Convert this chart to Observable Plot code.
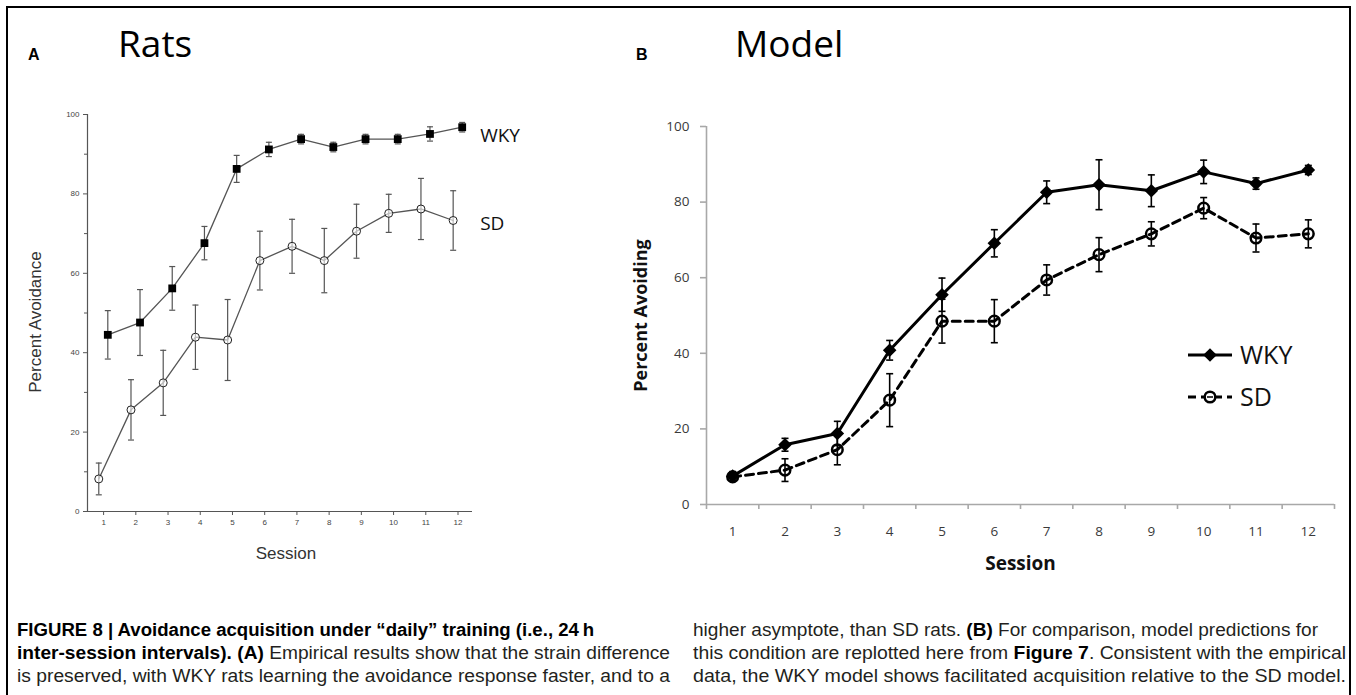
<!DOCTYPE html>
<html><head><meta charset="utf-8">
<script src="https://cdn.jsdelivr.net/npm/d3@7"></script>
<script src="https://cdn.jsdelivr.net/npm/@observablehq/plot@0.6"></script>
<style>
html,body{margin:0;padding:0;background:#fff;}
#fig{position:relative;width:1356px;height:695px;overflow:hidden;background:#fff;}
#fig > svg{position:absolute;}
</style></head><body><div id="fig"></div>
<script>
// ---------- data ----------
const sessions = [1,2,3,4,5,6,7,8,9,10,11,12];
const yTicks = [0,20,40,60,80,100];
const yMinorTicks = [10,30,50,70,90];

// Panel A (Rats)
const ratsWKY    = [44.5, 47.6, 56.2, 67.6, 86.3, 91.2, 93.8, 91.8, 93.8, 93.8, 95.1, 96.8];
const ratsWKYErr = [6.1, 8.3, 5.5, 4.2, 3.4, 1.8, 1.2, 1.2, 1.2, 1.2, 1.8, 1.2];
const ratsSD     = [8.2, 25.6, 32.4, 43.9, 43.2, 63.2, 66.8, 63.2, 70.6, 75.1, 76.2, 73.3];
const ratsSDErr  = [4.0, 7.6, 8.2, 8.1, 10.2, 7.4, 6.8, 8.1, 6.8, 4.8, 7.7, 7.5];

// Panel B (Model)
const modelWKY    = [7.5, 15.8, 18.8, 40.8, 55.5, 69.1, 82.6, 84.6, 83.0, 88.0, 84.9, 88.5];
const modelWKYErr = [1.2, 1.7, 3.2, 2.6, 4.4, 3.6, 3.0, 6.6, 4.2, 3.1, 1.5, 1.2];
const modelSD     = [7.3, 9.1, 14.5, 27.6, 48.5, 48.5, 59.4, 66.1, 71.6, 78.4, 70.5, 71.6];
const modelSDErr  = [1.0, 3.0, 4.0, 7.0, 5.8, 5.7, 4.0, 4.5, 3.2, 2.8, 3.7, 3.7];

const seriesNames = ["WKY", "SD"];
const titleA = "Rats", titleB = "Model";
const panelA = "A", panelB = "B";
const yLabelA = "Percent Avoidance", yLabelB = "Percent Avoiding", xLabel = "Session";

// ---------- helpers ----------
const rows = (vals, errs, off = 0) =>
  sessions.map((s, i) => ({x: s + off, y: vals[i], lo: vals[i] - errs[i], hi: vals[i] + errs[i]}));
const capSymbol = {draw(ctx, size) { const r = Math.sqrt(size / Math.PI); ctx.moveTo(-r, 0); ctx.lineTo(r, 0); }};
const diamondSymbol = {draw(ctx, size) { const r = Math.sqrt(size / Math.PI); ctx.moveTo(0, -r); ctx.lineTo(r, 0); ctx.lineTo(0, r); ctx.lineTo(-r, 0); ctx.closePath(); }};

const fig = document.getElementById("fig");
const SANS = "'Liberation Sans', Arial, sans-serif";
const CAL = "'Open Sans', sans-serif";

// ---------- Panel A ----------
const aW = rows(ratsWKY, ratsWKYErr, 0.13);
const aS = rows(ratsSD, ratsSDErr, -0.15);
const aXDomain = [0.5, 12.45];
const gA = "#555";
const plotA = Plot.plot({
  width: 560, height: 600,
  marginLeft: 87, marginRight: 88, marginTop: 114, marginBottom: 89,
  x: {type: "linear", domain: aXDomain, axis: null},
  y: {domain: [0, 100], axis: null},
  style: {fontFamily: SANS, background: "transparent", overflow: "visible"},
  marks: [
    Plot.ruleY([0], {stroke: gA, strokeWidth: 1.2}),
    Plot.ruleX([aXDomain[0]], {stroke: gA, strokeWidth: 1.2}),
    Plot.axisY({ticks: yTicks, tickSize: 4, tickPadding: 4, fontSize: 8, fill: "#444", stroke: gA, label: null}),
    Plot.axisY({ticks: yMinorTicks, tickSize: 3, tickFormat: () => "", stroke: gA, label: null}),
    Plot.axisX({ticks: sessions, tickSize: 4, tickPadding: 4, fontSize: 8, fill: "#444", stroke: gA, label: null}),
    Plot.text([yLabelA], {text: d => d, frameAnchor: "left", textAnchor: "middle", lineAnchor: "middle", rotate: -90, dx: -52, dy: 9, fontSize: 17, fill: "#333"}),
    Plot.text([xLabel], {text: d => d, frameAnchor: "bottom", textAnchor: "middle", lineAnchor: "middle", dx: 6, dy: 42, fontSize: 17, fill: "#333"}),
    // error bars
    Plot.ruleX(aW, {x: "x", y1: "lo", y2: "hi", stroke: gA, strokeWidth: 1.2}),
    Plot.ruleX(aS, {x: "x", y1: "lo", y2: "hi", stroke: gA, strokeWidth: 1.2}),
    Plot.dot(aW.concat(aS), {x: "x", y: "hi", symbol: capSymbol, r: 3, stroke: gA, strokeWidth: 1.2}),
    Plot.dot(aW.concat(aS), {x: "x", y: "lo", symbol: capSymbol, r: 3, stroke: gA, strokeWidth: 1.2}),
    // lines
    Plot.line(aW, {x: "x", y: "y", stroke: gA, strokeWidth: 1.3}),
    Plot.line(aS, {x: "x", y: "y", stroke: gA, strokeWidth: 1.3}),
    Plot.dot(aS, {x: "x", y: "y", r: 4, stroke: "#222", strokeWidth: 1, fill: "white", fillOpacity: 0.6}),
    Plot.dot(aW, {x: "x", y: "y", symbol: "square", r: 4.4, fill: "#000", stroke: "none"}),
    Plot.text(aW.slice(-1), {x: "x", y: "y", text: () => seriesNames[0], textAnchor: "start", dx: 18, dy: 8.5, fontSize: 19, fontFamily: CAL, fill: "#111"}),
    Plot.text(aS.slice(-1), {x: "x", y: "y", text: () => seriesNames[1], textAnchor: "start", dx: 27, dy: 3, fontSize: 19, fontFamily: CAL, fill: "#111"})
  ]
});
plotA.style.left = "0px"; plotA.style.top = "0px";
fig.appendChild(plotA);

// ---------- Panel B ----------
const bW = rows(modelWKY, modelWKYErr);
const bS = rows(modelSD, modelSDErr);
const bXDomain = [0.5, 12.5];
const bounds = [bXDomain[0]].concat(sessions.map(s => s + 0.5));
const gB = "#a8a8a8";
const plotB = Plot.plot({
  width: 776, height: 600,
  marginLeft: 126, marginRight: 22, marginTop: 126, marginBottom: 96,
  x: {type: "linear", domain: bXDomain, axis: null},
  y: {domain: [0, 100], axis: null},
  style: {fontFamily: CAL, background: "transparent", overflow: "visible"},
  marks: [
    Plot.ruleY([0], {stroke: gB, strokeWidth: 1.6}),
    Plot.ruleX([bXDomain[0]], {stroke: gB, strokeWidth: 1.6}),
    Plot.axisY({ticks: yTicks, tickSize: 6, tickPadding: 11, fontSize: 13.5, fill: "#3a3a3a", stroke: gB, strokeWidth: 1.6, label: null}),
    Plot.axisX({ticks: bounds, tickSize: 5, tickFormat: () => "", stroke: gB, strokeWidth: 1.6, label: null}),
    Plot.axisX({ticks: sessions, tickSize: 0, tickPadding: 22, fontSize: 13.5, fill: "#3a3a3a", label: null}),
    Plot.text([yLabelB], {text: d => d, frameAnchor: "left", textAnchor: "middle", lineAnchor: "middle", rotate: -90, dx: -65, fontSize: 18, fontWeight: "bold", fill: "#111"}),
    Plot.text([xLabel], {text: d => d, frameAnchor: "bottom", textAnchor: "middle", lineAnchor: "middle", dy: 59, fontSize: 19, fontWeight: "bold", fill: "#111"}),
    // error bars
    Plot.ruleX(bW.concat(bS), {x: "x", y1: "lo", y2: "hi", stroke: "#000", strokeWidth: 1.6}),
    Plot.dot(bW.concat(bS), {x: "x", y: "hi", symbol: capSymbol, r: 3.5, stroke: "#000", strokeWidth: 1.6}),
    Plot.dot(bW.concat(bS), {x: "x", y: "lo", symbol: capSymbol, r: 3.5, stroke: "#000", strokeWidth: 1.6}),
    // lines
    Plot.line(bS, {x: "x", y: "y", stroke: "#000", strokeWidth: 3, strokeDasharray: "8,5"}),
    Plot.line(bW, {x: "x", y: "y", stroke: "#000", strokeWidth: 3}),
    Plot.dot(bS, {x: "x", y: "y", r: 5.3, stroke: "#000", strokeWidth: 2.5, fill: "none"}),
    Plot.dot(bW, {x: "x", y: "y", symbol: diamondSymbol, r: 6.8, fill: "#000", stroke: "none"})
  ]
});
plotB.style.left = "580px"; plotB.style.top = "0px";
fig.appendChild(plotB);

// ---------- overlay: frame, titles, legend, caption ----------
const ov = d3.select(fig).append("svg")
  .attr("width", 1356).attr("height", 695)
  .style("left", "0px").style("top", "0px").style("pointer-events", "none");

ov.append("path").attr("d", "M7,700V7H1350V700").attr("fill", "none").attr("stroke", "#000").attr("stroke-width", 2);

ov.append("text").attr("x", 28).attr("y", 60).attr("font-family", SANS).attr("font-weight", "bold").attr("font-size", 16).text(panelA);
ov.append("text").attr("x", 118).attr("y", 57).attr("font-family", CAL).attr("font-size", 37).text(titleA);
ov.append("text").attr("x", 636).attr("y", 60).attr("font-family", SANS).attr("font-weight", "bold").attr("font-size", 16).text(panelB);
ov.append("text").attr("x", 735).attr("y", 57).attr("font-family", CAL).attr("font-size", 37).text(titleB);

// legend for panel B
const leg = ov.append("g");
[[seriesNames[0], 355, null], [seriesNames[1], 397, "8,5"]].forEach(([name, y, dash], i) => {
  leg.append("line").attr("x1", 1188).attr("x2", 1232).attr("y1", y).attr("y2", y)
    .attr("stroke", "#000").attr("stroke-width", 3).attr("stroke-dasharray", dash);
  if (i === 0) leg.append("path").attr("d", `M1210,${y-6.8}L1216.8,${y}L1210,${y+6.8}L1203.2,${y}Z`).attr("fill", "#000");
  else {
    leg.append("circle").attr("cx", 1210).attr("cy", y).attr("r", 5.3).attr("fill", "white").attr("stroke", "#000").attr("stroke-width", 2.5);
    leg.append("line").attr("x1", 1207).attr("x2", 1213).attr("y1", y).attr("y2", y).attr("stroke", "#000").attr("stroke-width", 1.5);
  }
  leg.append("text").attr("x", 1240).attr("y", y + 9).attr("font-family", CAL).attr("font-size", 25).attr("fill", "#111").text(name);
});

// caption
const captionLines = [
  {x: 17, y: 636, w: 577, parts: [["FIGURE 8 | Avoidance acquisition under \u201Cdaily\u201D training (i.e., 24\u2009h", true]]},
  {x: 17, y: 659, w: 653, parts: [["inter-session intervals). (A)", true], [" Empirical results show that the strain difference", false]]},
  {x: 17, y: 682, w: 653, parts: [["is preserved, with WKY rats learning the avoidance response faster, and to a", false]]},
  {x: 693, y: 636, w: 625, parts: [["higher asymptote, than SD rats. ", false], ["(B)", true], [" For comparison, model predictions for", false]]},
  {x: 693, y: 659, w: 653, parts: [["this condition are replotted here from ", false], ["Figure 7", true], [". Consistent with the empirical", false]]},
  {x: 693, y: 682, w: 653, parts: [["data, the WKY model shows facilitated acquisition relative to the SD model.", false]]}
];
captionLines.forEach(l => {
  const t = ov.append("text").attr("x", l.x).attr("y", l.y).attr("font-family", SANS).attr("font-size", 17.5)
    .attr("fill", "#231f20").attr("textLength", l.w).attr("lengthAdjust", "spacingAndGlyphs").attr("xml:space", "preserve");
  l.parts.forEach(([s, b]) => t.append("tspan").attr("font-weight", b ? "bold" : null).attr("fill", b ? "#000" : null).text(s));
});
</script></body></html>
